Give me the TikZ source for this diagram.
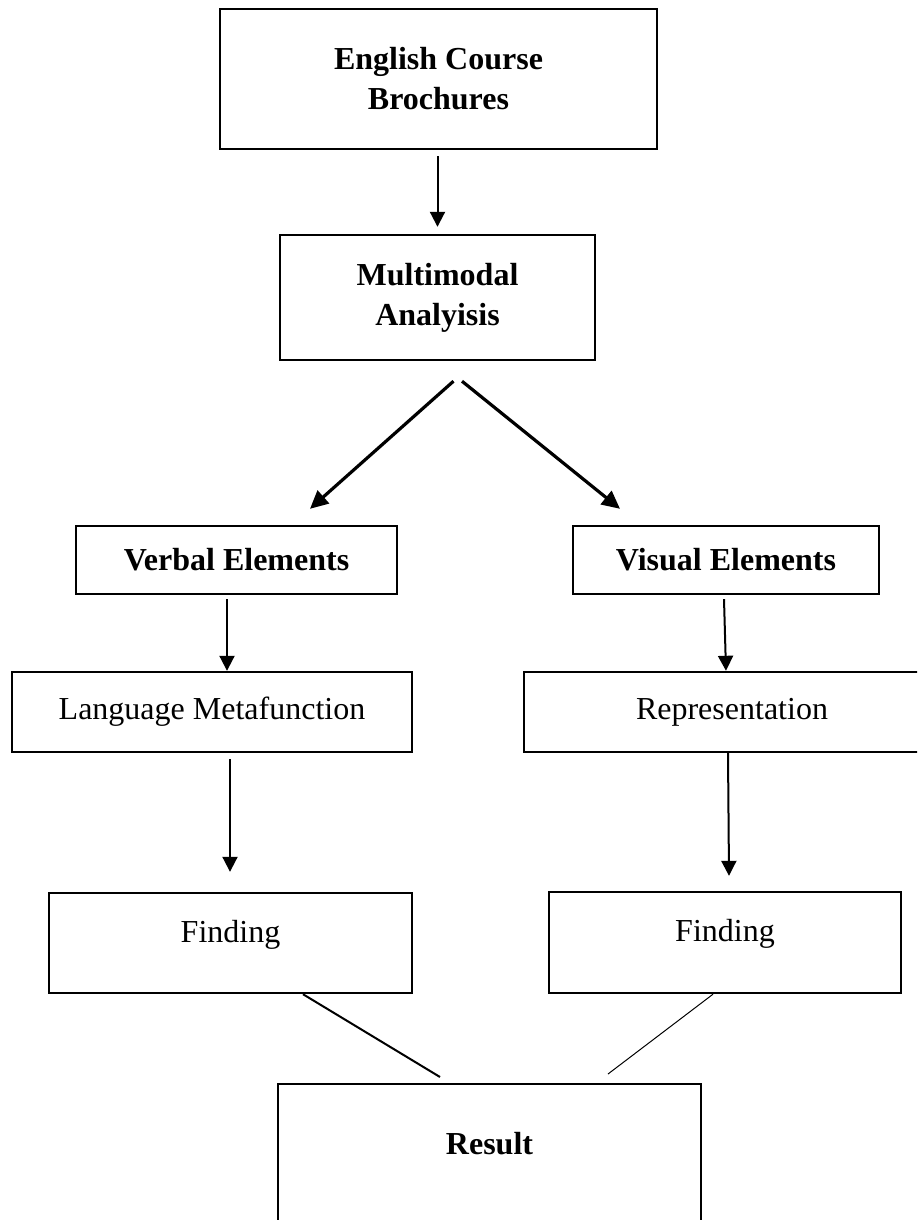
\documentclass[tikz,border=0pt]{standalone}
\usepackage{fontspec}
\setmainfont{Liberation Serif}
\usetikzlibrary{arrows.meta,positioning,calc}
\tikzset{
  blk/.style={draw, line width=1.2pt, inner sep=0pt, align=center, font=\fontsize{16}{20}\selectfont},
  bblk/.style={blk, font=\fontsize{16}{20}\selectfont\bfseries},
  arr/.style={-{Triangle[length=7.5pt,width=7.5pt]}, line width=1pt},
  darr/.style={-{Triangle[length=9pt,width=8.5pt]}, line width=1.6pt},
}
\begin{document}
\begin{tikzpicture}[x=0.5pt,y=-0.5pt]
  \useasboundingbox (0,0) rectangle (917,1220);
  \clip (0,0) rectangle (917,1220);
  \node[bblk, minimum width=218.5pt, minimum height=70pt] (brochure) at (438.5,79) {English Course\\Brochures};
  \node[bblk, minimum width=157.5pt, minimum height=62.5pt] (analysis) at (437.5,297.5) {Multimodal\\Analyisis};
  \node[bblk, minimum width=160.5pt, minimum height=34pt] (verbal) at (236.5,560) {Verbal Elements};
  \node[bblk, minimum width=153pt, minimum height=34pt] (visual) at (726,560) {Visual Elements};
  \node[blk, minimum width=200pt, minimum height=40pt] (langmeta) at (212,712) {Language Metafunction};
  \node[blk, minimum width=208pt, minimum height=40pt] (repres) at (732,712) {Representation};
  \node[blk, minimum width=181.5pt, minimum height=50pt, text depth=12pt] (findL) at (230.5,943) {Finding};
  \node[blk, minimum width=176pt, minimum height=50.5pt, text depth=12pt] (findR) at (725,942.5) {Finding};
  \node[bblk, anchor=north, minimum width=211.5pt, text height=35pt, text depth=80pt] (result) at (489.5,1083) {Result};
  % top part
  \draw[arr, shorten <=3pt, shorten >=3.5pt] (brochure.south -| analysis) -- (analysis.north);
  \draw[darr] ($(analysis.south)+(16,20)$) -- ($(verbal.north)+(73.5,-16)$);
  \draw[darr] ($(analysis.south)+(24.5,20)$) -- ($(visual.north)+(-106,-16)$);
  % two columns
  \draw[arr] ($(verbal.south)+(-9.5,4)$) -- ($(langmeta.north)+(15,0)$);
  \draw[arr] ($(visual.south)+(-2,4)$) -- ($(repres.north)+(-6,0)$);
  \draw[arr] ($(langmeta.south)+(18,6)$) -- ($(findL.north)+(-0.5,-20)$);
  \draw[arr] ($(repres.south)+(-4,0)$) -- ($(findR.north)+(4,-15)$);
  % into result
  \draw[line width=1pt] ($(findL.south)+(72.5,0)$) -- ($(result.north)+(-49.5,-6)$);
  \draw[line width=0.5pt] ($(findR.south)+(-12,0)$) -- ($(result.north)+(118.5,-9)$);
\end{tikzpicture}
\end{document}
